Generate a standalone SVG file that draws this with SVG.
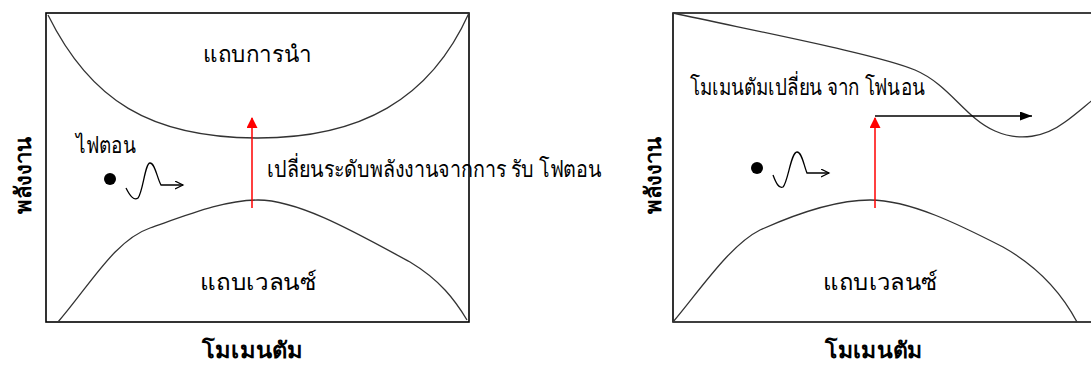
<svg xmlns="http://www.w3.org/2000/svg" width="1091" height="367" viewBox="0 0 1091 367">
<defs>
<style>
.frame{fill:none;stroke:#000;stroke-width:1.6}
.band{fill:none;stroke:#333;stroke-width:1.3}
.red{stroke:#ff0000;stroke-width:1.5;fill:none}
.blk{stroke:#000;stroke-width:1.3;fill:none}
.t{font-family:"Noto Sans","DejaVu Sans",sans-serif;font-size:23px;fill:#000}
.ax{font-family:"Noto Sans","DejaVu Sans",sans-serif;font-size:22px;font-weight:bold;fill:#000}
</style>
<marker id="redHead" markerWidth="12" markerHeight="12" refX="10" refY="5.5" orient="auto" markerUnits="userSpaceOnUse">
<path d="M0,0 L11,5.5 L0,11 Z" fill="#ff0000"/>
</marker>
<marker id="blkHead" markerWidth="13" markerHeight="10" refX="12" refY="4.5" orient="auto" markerUnits="userSpaceOnUse">
<path d="M0,0 L12,4.5 L0,9 Z" fill="#000"/>
</marker>
<marker id="openHead" markerWidth="10" markerHeight="10" refX="8" refY="4" orient="auto" markerUnits="userSpaceOnUse">
<path d="M0,0 L8,4 L0,8" fill="none" stroke="#000" stroke-width="1.2"/>
</marker>
</defs>

<g id="left-panel">
<rect class="frame" x="46" y="13" width="423" height="309"/>
<path id="left-conduction" class="band" d="M48,15 C90,100 150,138 258,138 C360,138 430,100 469,13"/>
<path id="left-valence" class="band" d="M58,322 C90,285 115,240 150,228 C190,214 225,200 258,200 C300,200 360,235 410,262 C440,280 455,300 467,320"/>
<text class="t" x="203" y="62" textLength="109" lengthAdjust="spacingAndGlyphs">แถบการนำ</text>
<text class="t" x="200" y="290" textLength="117" lengthAdjust="spacingAndGlyphs">แถบเวลนซ์</text>
<text class="t" x="76" y="153" textLength="60" lengthAdjust="spacingAndGlyphs">ไฟตอน</text>
<text class="t" x="267" y="177" textLength="335" lengthAdjust="spacingAndGlyphs">เปลี่ยนระดับพลังงานจากการ รับ โฟตอน</text>
<text class="ax" transform="translate(31,175) rotate(-90)" text-anchor="middle">พลังงาน</text>
<text class="ax" x="202" y="358" textLength="101" lengthAdjust="spacingAndGlyphs">โมเมนตัม</text>
</g>

<g id="left-photon">
<circle cx="110" cy="179" r="6" fill="#000"/>
<path class="blk" d="M126,188 C130,196 134,201 138,198 C143,192 145,163 150,163 C155,163 157,178 161,185 L183,185" marker-end="url(#openHead)"/>
</g>

<g id="right-panel">
<path class="frame" d="M1100,13 L673,13 L673,322 L1100,322"/>
<path id="right-conduction" class="band" d="M673,13 C760,32 880,55 915,70 C950,85 965,118 995,131 C1020,142 1045,137 1065,122 C1075,115 1085,106 1095,98"/>
<path id="right-valence" class="band" d="M673,322 C700,290 730,245 760,230 C800,212 840,200 870,200 C910,200 960,225 1003,247 C1035,265 1060,290 1077,322"/>
<text class="t" x="690" y="95" textLength="235" lengthAdjust="spacingAndGlyphs">โมเมนตัมเปลี่ยน จาก โฟนอน</text>
<text class="t" x="823" y="290" textLength="115" lengthAdjust="spacingAndGlyphs">แถบเวลนซ์</text>
<text class="ax" transform="translate(661,175) rotate(-90)" text-anchor="middle">พลังงาน</text>
<text class="ax" x="825" y="358" textLength="98" lengthAdjust="spacingAndGlyphs">โมเมนตัม</text>
</g>

<g id="right-photon">
<circle cx="757" cy="168" r="6" fill="#000"/>
<path class="blk" d="M773,175 C776,183 779,189 783,187 C788,182 791,152 797,152 C802,152 804,166 807,173 L829,173" marker-end="url(#openHead)"/>
</g>

<g id="connectors">
<line id="left-transition" class="red" x1="252" y1="208" x2="252" y2="118" marker-end="url(#redHead)"/>
<line id="right-transition" class="red" x1="875" y1="208" x2="875" y2="118" marker-end="url(#redHead)"/>
<line id="phonon-shift" class="blk" x1="875" y1="116" x2="1032" y2="116" marker-end="url(#blkHead)"/>
</g>
</svg>
